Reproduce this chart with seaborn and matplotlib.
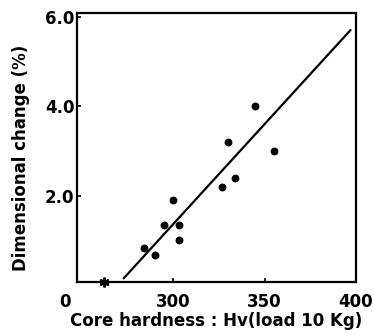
import matplotlib
matplotlib.use("Agg")
import matplotlib.pyplot as plt
import matplotlib.transforms as mtransforms
import seaborn as sns
import pandas as pd

# Data
hardness = [345, 330, 355, 327, 334, 300, 295, 303, 303, 284, 290]
dim_change = [4.0, 3.2, 3.0, 2.2, 2.4, 1.9, 1.35, 1.35, 1.0, 0.83, 0.67]
line_x = [273, 397]
line_y = [0.15, 5.7]
x_ticks = [247.5, 300, 350, 400]
x_tick_labels = ["0", "300", "350", "400"]
y_ticks = [2.0, 4.0, 6.0]
y_tick_labels = ["2.0", "4.0", "6.0"]
break_x = [262]
break_y = [0.07]

sns.set_theme(style="ticks")
plt.rcParams['font.family'] = ['DejaVu Sans']
plt.rcParams['axes.labelcolor'] = 'black'
plt.rcParams['text.color'] = 'black'

df = pd.DataFrame({"hardness": hardness, "change": dim_change})
fit = pd.DataFrame({"x": line_x, "y": line_y})

fig = plt.figure(figsize=(3.74, 3.34), dpi=100)
ax = fig.add_axes([0.206, 0.156, 0.746, 0.805])

sns.lineplot(data=fit, x="x", y="y", ax=ax, color="black", linewidth=1.6)
sns.scatterplot(data=df, x="hardness", y="change", ax=ax, color="black",
                s=32, edgecolor="black", linewidth=0, zorder=3)
ax.plot(break_x, break_y, marker=(6, 2, 0), color="black", markersize=7,
        markeredgewidth=1.8, linestyle="none", clip_on=False, zorder=4)

ax.set_xlim(247.5, 400)
ax.set_ylim(0.07, 6.08)
ax.set_xticks(x_ticks)
ax.set_xticklabels(x_tick_labels)
ax.set_yticks(y_ticks)
ax.set_yticklabels(y_tick_labels)

for sp in ax.spines.values():
    sp.set_visible(True)
    sp.set_linewidth(1.6)
    sp.set_color("black")

ax.tick_params(axis="both", direction="in", length=3, width=1.2, colors="black",
               labelsize=12)
ax.tick_params(axis="y", pad=2)
ax.tick_params(axis="x", pad=8)
for lab in ax.get_xticklabels() + ax.get_yticklabels():
    lab.set_fontweight("bold")

# shift the "0" label left like the reference
first = ax.get_xticklabels()[0]
first.set_transform(first.get_transform() +
                    mtransforms.ScaledTranslation(-0.12, 0, fig.dpi_scale_trans))

ax.set_xlabel("Core hardness : Hv(load 10 Kg)", fontsize=12, fontweight="bold",
              labelpad=1, color="black")
ax.set_ylabel("Dimensional change (%)", fontsize=12, fontweight="bold",
              color="black")
ax.yaxis.set_label_coords(-0.168, 0.46)

fig.savefig("out.png", dpi=100)
